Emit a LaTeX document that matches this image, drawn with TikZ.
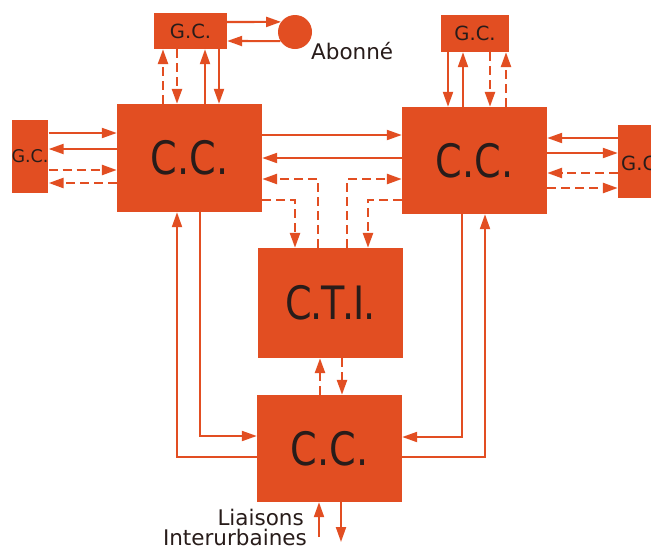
\documentclass[tikz,border=0pt]{standalone}
\usepackage{fontspec}
\setmainfont{DejaVu Sans}
\newfontfamily\labfont{DejaVu Sans}
\newfontfamily\bigfont{DejaVu Sans}[FakeStretch=0.83]
\usetikzlibrary{arrows.meta,calc}
\definecolor{ora}{RGB}{226,78,34}
\definecolor{ink}{RGB}{40,28,26}
\tikzset{
  box/.style={fill=ora, draw=none, inner sep=0pt, text=ink, align=center},
  ln/.style={draw=ora, line width=2.1pt, -{Triangle[length=15pt,width=10pt]}},
  dl/.style={ln, line width=2.5pt, dash pattern=on 9pt off 5pt},
  lab/.style={text=ink, inner sep=0pt, font=\labfont\fontsize{21.5}{23}\selectfont},
  gcfont/.style={font=\labfont\fontsize{19.5}{20}\selectfont},
  ccfont/.style={font=\bigfont\fontsize{46}{47}\selectfont},
}
\begin{document}
\begin{tikzpicture}[x=1pt,y=-1pt]
\clip (0,0) rectangle (651,550);
\fill[white] (0,0) rectangle (651,550);
% boxes
\node[box, gcfont, minimum width=73pt, minimum height=36pt] (gc1) at (190.5,31) {G.C.};
\node[circle, fill=ora, minimum size=34pt, inner sep=0pt] (ab) at (295,32) {};
\node[box, gcfont, minimum width=68pt, minimum height=37pt] (gc2) at (475,33.5) {G.C.};
\node[box, font=\labfont\fontsize{17.5}{18}\selectfont, minimum width=36pt, minimum height=73pt] (gc3) at (30,156.5) {G.C.};
\node[box, minimum width=42pt, minimum height=73pt] (gc4) at (639,161.5) {};
\node[text=ink, inner sep=0pt, gcfont, anchor=west] (gc4t) at (621,163) {G.C.};
\node[box, ccfont, minimum width=145pt, minimum height=108pt] (cc1) at (189.5,158) {C.C.};
\node[box, ccfont, minimum width=145pt, minimum height=107pt] (cc2) at (474.5,160.5) {C.C.};
\node[box, ccfont, minimum width=145pt, minimum height=110pt] (cti) at (330.5,303) {C\kern-2pt.\kern-1ptT\kern-2pt.\kern-1ptI\kern-2pt.};
\node[box, ccfont, minimum width=145pt, minimum height=107pt] (cc3) at (329.5,448.5) {C.C.};
% labels
\node[lab, anchor=base west] (labAb) at (311,59) {Abonné};
\node[lab, anchor=base east] (labL) at (304,525) {Liaisons};
\node[lab, anchor=base east] (labI) at (307,545) {Interurbaines};
% helper coordinates
\foreach \x in {163,177,200,205,219,295,318,320,341,342,347,368,448,462,463,485,490,506,319}
  \coordinate (v\x) at (\x,0);
\foreach \y in {22,41,133,135,138,149,153,158,170,173,179,183,188,200,436,437,457}
  \coordinate (h\y) at (0,\y);
\coordinate (b1) at (319,537);
\coordinate (b2) at (341,542);
% abonne
\draw[ln] (h22 -| gc1.east) -- (ab.144);
\draw[ln] (ab.212) -- (h41 -| gc1.east);
% top-left GC <-> CC1
\draw[dl] (v163 |- cc1.north) -- (v163 |- gc1.south);
\draw[dl] (v177 |- gc1.south) -- (v177 |- cc1.north);
\draw[ln] (v205 |- cc1.north) -- (v205 |- gc1.south);
\draw[ln] (v219 |- gc1.south) -- (v219 |- cc1.north);
% top-right GC <-> CC2
\draw[ln] (v448 |- gc2.south) -- (v448 |- cc2.north);
\draw[ln] (v463 |- cc2.north) -- (v463 |- gc2.south);
\draw[dl] (v490 |- gc2.south) -- (v490 |- cc2.north);
\draw[dl] (v506 |- cc2.north) -- (v506 |- gc2.south);
% left GC <-> CC1
\draw[ln] (h133 -| gc3.east) -- (h133 -| cc1.west);
\draw[ln] (h149 -| cc1.west) -- (h149 -| gc3.east);
\draw[dl] (h170 -| gc3.east) -- (h170 -| cc1.west);
\draw[dl] (h183 -| cc1.west) -- (h183 -| gc3.east);
% right GC <-> CC2
\draw[ln] (h138 -| gc4.west) -- (h138 -| cc2.east);
\draw[ln] (h153 -| cc2.east) -- (h153 -| gc4.west);
\draw[dl] (h173 -| gc4.west) -- (h173 -| cc2.east);
\draw[dl] (h188 -| cc2.east) -- (h188 -| gc4.west);
% CC1 <-> CC2
\draw[ln] (h135 -| cc1.east) -- (h135 -| cc2.west);
\draw[ln] (h158 -| cc2.west) -- (h158 -| cc1.east);
% CTI <-> CC1, CC2
\draw[dl] (v318 |- cti.north) |- (h179 -| cc1.east);
\draw[dl] (v347 |- cti.north) |- (h179 -| cc2.west);
\draw[dl] (h200 -| cc1.east) -| (v295 |- cti.north);
\draw[dl] (h200 -| cc2.west) -| (v368 |- cti.north);
% CTI <-> CC3
\draw[dl] (v320 |- cc3.north) -- (v320 |- cti.south);
\draw[dl] (v342 |- cti.south) -- (v342 |- cc3.north);
% side links
\draw[ln] (h457 -| cc3.west) -| (v177 |- cc1.south);
\draw[ln] (v200 |- cc1.south) |- (h436 -| cc3.west);
\draw[ln] (v462 |- cc2.south) |- (h437 -| cc3.east);
\draw[ln] (h457 -| cc3.east) -| (v485 |- cc2.south);
% bottom
\draw[ln] (b1) -- (v319 |- cc3.south);
\draw[ln] (v341 |- cc3.south) -- (b2);
\end{tikzpicture}
\end{document}
